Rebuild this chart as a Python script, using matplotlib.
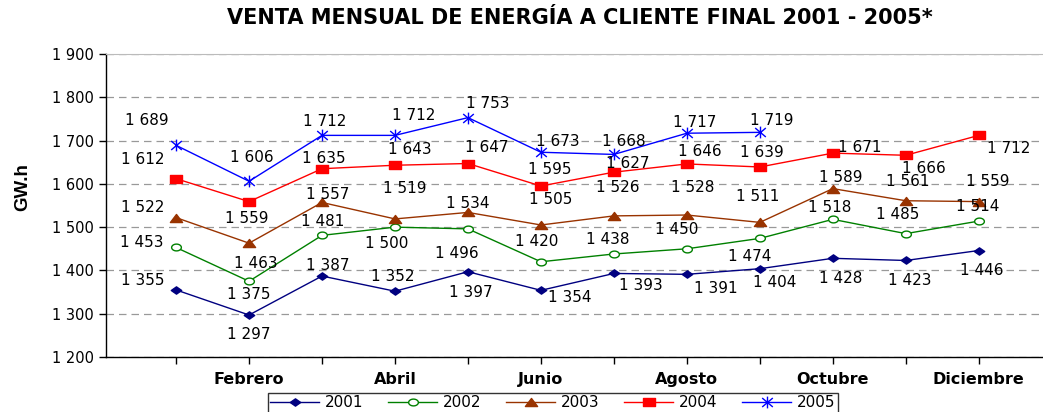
import matplotlib
matplotlib.use("Agg")
import matplotlib.pyplot as plt
import numpy as np
from matplotlib.path import Path
from matplotlib.ticker import FuncFormatter, MultipleLocator

plt.rcParams['font.family'] = ['DejaVu Sans']

months = ["Enero", "Febrero", "Marzo", "Abril", "Mayo", "Junio", "Julio",
          "Agosto", "Septiembre", "Octubre", "Noviembre", "Diciembre"]

v2001 = [1355, 1297, 1387, 1352, 1397, 1354, 1393, 1391, 1404, 1428, 1423, 1446]
v2002 = [1453, 1375, 1481, 1500, 1496, 1420, 1438, 1450, 1474, 1518, 1485, 1514]
v2003 = [1522, 1463, 1557, 1519, 1534, 1505, 1526, 1528, 1511, 1589, 1561, 1559]
v2004 = [1612, 1559, 1635, 1643, 1647, 1595, 1627, 1646, 1639, 1671, 1666, 1712]
v2005 = [1689, 1606, 1712, 1712, 1753, 1673, 1668, 1717, 1719]

series_names = ["2001", "2002", "2003", "2004", "2005"]
series_values = [v2001, v2002, v2003, v2004, v2005]

# horizontally stretched marker shapes (the reference is stretched sideways)
sq = Path([(-0.5, -0.33), (0.5, -0.33), (0.5, 0.33), (-0.5, 0.33), (-0.5, -0.33)],
          closed=True)
dia = Path([(0, -0.35), (0.5, 0), (0, 0.35), (-0.5, 0), (0, -0.35)], closed=True)
tri = Path([(-0.5, -0.33), (0.5, -0.33), (0, 0.33), (-0.5, -0.33)], closed=True)
t = np.linspace(0, 2 * np.pi, 41)
ell = Path(np.column_stack([0.5 * np.cos(t), 0.35 * np.sin(t)]), closed=True)
star = Path([(0, -0.5), (0, 0.5), (-0.45, -0.38), (0.45, 0.38), (-0.45, 0.38), (0.45, -0.38)],
            [Path.MOVETO, Path.LINETO, Path.MOVETO, Path.LINETO, Path.MOVETO, Path.LINETO])

styles = {
    "2001": dict(color="#000080", marker=dia, ms=7.5, mfc="#000080", mec="#000080"),
    "2002": dict(color="#008000", marker=ell, ms=7.0, mfc="white", mec="#008000"),
    "2003": dict(color="#993300", marker=tri, ms=8.8, mfc="#993300", mec="#993300"),
    "2004": dict(color="#FF0000", marker=sq, ms=8.8, mfc="#FF0000", mec="#FF0000"),
    "2005": dict(color="#0000FF", marker=star, ms=8.5, mfc="none", mec="#0000FF"),
}

# data label offsets in screen pixels (dx right, dy down)
label_offsets = {
    "2001": [(-33, -9), (0, 19), (6, -11), (-2, -15), (3, 21), (29, 7), (27, 12),
             (29, 14), (15, 14), (8, 20), (4, 20), (3, 20)],
    "2002": [(-34, -5), (0, 13), (1, -14), (-8, 16), (-11, 25), (-4, -20), (-6, -14),
             (-10, -19), (-10, 18), (-3, -12), (-8, -19), (-1, -15)],
    "2003": [(-33, -10), (7, 20), (6, -8), (10, -30), (0, -9), (10, -25), (4, -28),
             (6, -28), (-2, -26), (8, -11), (2, -19), (9, -20)],
    "2004": [(-33, -19), (-2, 17), (2, -10), (15, -16), (19, -16), (9, -17), (14, -9),
             (13, -12), (2, -14), (27, -6), (18, 13), (30, 13)],
    "2005": [(-29, -25), (3, -24), (3, -14), (19, -20), (20, -14), (17, -11), (10, -13),
             (8, -11), (12, -12)],
}

W, H = 1043, 412
fig = plt.figure(figsize=(W / 100, H / 100), dpi=100)
left, bottom, top = 106 / W, 1 - 357 / H, 1 - 54 / H
ax = fig.add_axes([left, bottom, 1 - left, top - bottom])

def fmt_thousands(v, pos=None):
    return f"{int(round(v)):,}".replace(",", " ")

for name, vals in zip(series_names, series_values):
    st = styles[name]
    x = list(range(len(vals)))
    ax.plot(x, vals, color=st["color"], lw=1.0, marker=st["marker"],
            markersize=st["ms"], markerfacecolor=st["mfc"],
            markeredgecolor=st["mec"], markeredgewidth=1.0, label=name, zorder=3)
    for i, v in enumerate(vals):
        dx, dy = label_offsets[name][i]
        ax.annotate(fmt_thousands(v), (i, v), xytext=(dx, -dy),
                    textcoords="offset pixels", ha="center", va="center",
                    fontsize=11, color="black", zorder=4)

ax.set_xlim(-0.96, 11.88)
ax.set_ylim(1200, 1900)
ax.yaxis.set_major_locator(MultipleLocator(100))
ax.yaxis.set_major_formatter(FuncFormatter(fmt_thousands))
ax.set_xticks(range(12))
ax.set_xticklabels([m if i % 2 == 1 else "" for i, m in enumerate(months)],
                   fontweight="bold", fontsize=11.5)
ax.tick_params(axis="x", length=5, width=1, pad=6, direction="out")
ax.tick_params(axis="y", length=5, width=1, labelsize=10.5, pad=4, direction="out")

ax.grid(axis="y", linestyle=(0, (6, 4)), color="#999999", lw=0.9)
ax.set_axisbelow(True)
ax.spines["right"].set_visible(False)
ax.spines["top"].set_color("#BBBBBB")
ax.spines["left"].set_linewidth(1.0)
ax.spines["bottom"].set_linewidth(1.0)

ax.set_ylabel("GW.h", fontsize=13.5, fontweight="bold", family="Liberation Sans")
ax.yaxis.set_label_coords(-0.08, 0.56)

fig.text(580 / W, 1 - 18 / H, "VENTA MENSUAL DE ENERGÍA A CLIENTE FINAL 2001 - 2005*",
         ha="center", va="center", fontsize=15, fontweight="bold")

leg = fig.legend(loc="upper center", bbox_to_anchor=(553 / W, 1 - 393 / H), ncol=5,
                 frameon=True, fancybox=False, edgecolor="black", fontsize=11,
                 handlelength=3.2, columnspacing=1.6, borderpad=0.15,
                 borderaxespad=0.0, handletextpad=0.4)
leg.get_frame().set_linewidth(1.0)

fig.savefig("out.png", dpi=100)
